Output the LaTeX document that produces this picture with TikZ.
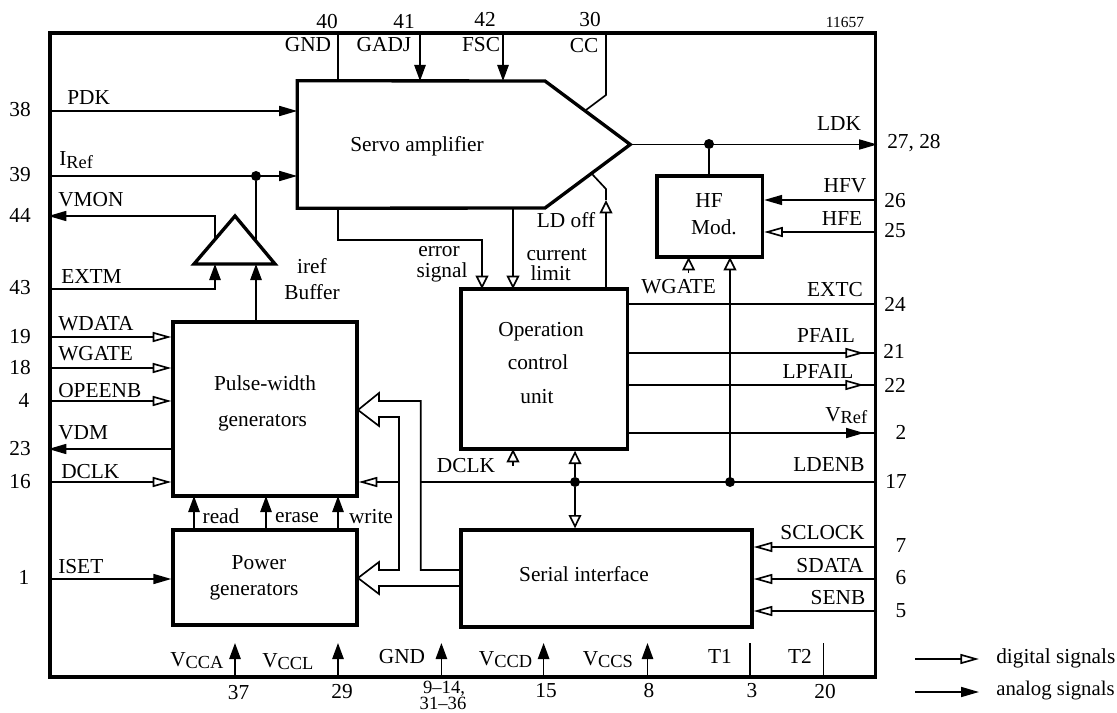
\documentclass[tikz,border=0pt]{standalone}
\usepackage{fontspec}
\setmainfont{Liberation Serif}
\usetikzlibrary{arrows.meta,fit}
\tikzset{
  x=0.75pt,y=-0.75pt,
  lbl/.style={inner sep=0pt,font=\fontsize{16}{18}\selectfont,anchor=base},
  lblw/.style={lbl,anchor=base west},
  tiny lbl/.style={lbl,font=\fontsize{11.6}{14}\selectfont},
  blockbox/.style={draw,line width=2.5pt,inner sep=0pt,line join=miter},
  ghost/.style={inner sep=0pt},
  thick line/.style={line width=2.5pt,line join=miter},
  wire/.style={line width=1.25pt,line join=miter},
  hfill/.style={wire,-{Triangle[length=13.5pt,width=7.5pt]}},
  vfill/.style={wire,-{Triangle[length=12pt,width=8.5pt]}},
  hopen/.style={wire,-{Triangle[open,length=14pt,width=7.5pt,fill=white,line width=1.25pt]}},
  vopen/.style={wire,-{Triangle[open,length=10pt,width=9.5pt,fill=white,line width=1.25pt]}},
  dot/.style={circle,fill=black,inner sep=0pt,minimum size=7.5pt},
}
\newcommand{\subs}[2]{#1\raisebox{-0.28ex}{\fontsize{13.8}{15}\selectfont #2}}
\begin{document}
\begin{tikzpicture}
\useasboundingbox (0,0) rectangle (1117,713);
% outer frame
\node[blockbox,fit={(50,33)(875.5,677)}] (frame) {};
% blocks
\node[ghost,fit={(297.5,81)(630,208)}] (servo) {};
\draw[thick line] (servo.north west) -- (545,81) -- (servo.east) -- (545,208) -- (servo.south west) -- cycle;
\coordinate (triapex) at (235,216);
\coordinate (triL) at (194,264);
\coordinate (triR) at (275,264);
\draw[thick line] (triapex) -- (triL) -- (triR) -- cycle;
\node[blockbox,fit={(173,322)(357,496)}] (pulse) {};
\node[blockbox,fit={(173,530)(357,625)}] (power) {};
\node[blockbox,fit={(461,289)(627.5,449)}] (oper) {};
\node[blockbox,fit={(461,530)(752,627)}] (serial) {};
\node[blockbox,fit={(657,176)(762.5,257)}] (hf) {};

% top pins
\coordinate (cc1) at (606,95);
\coordinate (cc2) at (586,110);
\draw[wire] (338,33) -- (338,81);
\draw[vfill] (420,33) -- (420,81);
\draw[vfill] (503,33) -- (503,81);
\draw[wire] (606,33) -- (cc1) -- (cc2);
% left pins to servo
\draw[hfill] (frame.west |- 0,111) -- (servo.west |- 0,111);
\node[dot] (dotiref) at (256,176) {};
\draw[hfill] (frame.west |- 0,176) -- (servo.west |- 0,176);
\draw[wire] (dotiref) -- (256,241);
\draw[hfill] (215,240) -- (215,216) -- (frame.west |- 0,216);
\draw[vfill] (frame.west |- 0,289) -- (215,289) -- (215,264);
\draw[vfill] (pulse.north -| 256,0) -- (256,264);
% left pins to pulse
\draw[hopen] (frame.west |- 0,337) -- (pulse.west |- 0,337);
\draw[hopen] (frame.west |- 0,368) -- (pulse.west |- 0,368);
\draw[hopen] (frame.west |- 0,401) -- (pulse.west |- 0,401);
\draw[hfill] (pulse.west |- 0,449) -- (frame.west |- 0,449);
\draw[hopen] (frame.west |- 0,482) -- (pulse.west |- 0,482);
\draw[hfill] (frame.west |- 0,579) -- (power.west |- 0,579);
% power to pulse
\draw[vfill] (194,530) -- (194,496);
\draw[vfill] (266,530) -- (266,496);
\draw[vfill] (338,530) -- (338,496);
% servo to oper
\draw[vopen] (338,208) -- (338,240) -- (482,240) -- (482,289);
\draw[vopen] (513,208) -- (513,289);
\draw[vopen] (606,289) -- (606,200);
\draw[wire] (606,200) -- (606,189) -- (592,174);
% LDK
\draw[hfill] (servo.east) -- (frame.east |- servo.east);
\node[dot] (dotldk) at (709,144) {};
\draw[wire] (dotldk) -- (hf.north -| dotldk);
\draw[hfill] (frame.east |- 0,200) -- (hf.east |- 0,200);
\draw[hopen] (frame.east |- 0,232) -- (hf.east |- 0,232);
\draw[vopen] (688.6,273) -- (688.6,257);
\draw[vopen] (730,482) -- (730,257);
% oper outputs
\draw[wire] (oper.east |- 0,304) -- (frame.east |- 0,304);
\draw[wire] (oper.east |- 0,353) -- (frame.east |- 0,353);
\draw[hopen] (oper.east |- 0,353) -- (864,353);
\draw[wire] (oper.east |- 0,385) -- (frame.east |- 0,385);
\draw[hopen] (oper.east |- 0,385) -- (864,385);
\draw[wire] (oper.east |- 0,433) -- (frame.east |- 0,433);
\draw[hfill] (oper.east |- 0,433) -- (864,433);
% LDENB / DCLK bus
\node[dot] (dotldenb) at (730,482) {};
\node[dot] (dotbus) at (575,482) {};
\draw[wire] (frame.east |- 0,482) -- (420.7,482);
\draw[hopen] (399,482) -- (pulse.east |- 0,482);
\draw[vopen] (dotbus) -- (oper.south -| dotbus);
\draw[vopen] (dotbus) -- (serial.north -| dotbus);
\draw[vopen] (513,466) -- (513,449);
% double arrows
\draw[wire] (serial.west |- 0,570) -- (420.7,570) -- (420.7,401) -- (379,401) -- (379,393) -- (358,410) -- (379,426) -- (379,417) -- (399,417) -- (399,570) -- (379,570) -- (379,562) -- (358,578) -- (379,594) -- (379,586) -- (serial.west |- 0,586);
% right pins to serial
\draw[hopen] (frame.east |- 0,547) -- (serial.east |- 0,547);
\draw[hopen] (frame.east |- 0,579) -- (serial.east |- 0,579);
\draw[hopen] (frame.east |- 0,611) -- (serial.east |- 0,611);
% bottom pins
\draw[vfill] (235,677) -- (235,643);
\draw[vfill] (338,677) -- (338,643);
\draw[vfill] (441.4,677) -- (441.4,643);
\draw[vfill] (543.6,677) -- (543.6,643);
\draw[vfill] (647.5,677) -- (647.5,643);
\draw[wire] (750,677) -- (750,643);
\draw[wire] (823.6,677) -- (823.6,643);
% legend
\coordinate (legd1) at (915,659);
\coordinate (legd2) at (979,659);
\coordinate (lega1) at (915,692);
\coordinate (lega2) at (979,692);
\draw[hopen] (legd1) -- (legd2);
\draw[hfill] (lega1) -- (lega2);

% labels: block texts
\node[lbl] (tservo) at (417,152) {Servo amplifier};
\node[lbl] (tiref) at (312,273) {iref};
\node[lbl] (tbuf) at (312,299) {Buffer};
\node[lbl] (terr) at (439,256) {error};
\node[lbl] (tsig) at (442,277) {signal};
\node[lbl] (tcur) at (556.7,260) {current};
\node[lbl] (tlim) at (550.7,280) {limit};
\node[lbl] (tldoff) at (566,228) {LD off};
\node[lbl] (top1) at (541,336) {Operation};
\node[lbl] (top2) at (538,369) {control};
\node[lbl] (top3) at (537,403) {unit};
\node[lbl] (tp1) at (265,390) {Pulse-width};
\node[lbl] (tp2) at (262.5,426) {generators};
\node[lbl] (tg1) at (259,569) {Power};
\node[lbl] (tg2) at (254,595) {generators};
\node[lbl] (tread) at (221,523) {read};
\node[lbl] (terase) at (297,522) {erase};
\node[lbl] (twrite) at (371,523) {write};
\node[lbl] (tser) at (584,581) {Serial interface};
\node[lbl] (thf1) at (709,207) {HF};
\node[lbl] (thf2) at (714,234) {Mod.};
\node[lbl] (tdclkm) at (466,472) {DCLK};
% top
\node[lbl] (n40) at (327,29) {40};
\node[lbl] (n41) at (404,29) {41};
\node[lbl] (n42) at (485,27) {42};
\node[lbl] (n30) at (590,27) {30};
\node[tiny lbl] (n11657) at (845,28) {11657};
\node[lbl] (tgnd) at (308,52) {GND};
\node[lbl] (tgadj) at (384,52) {GADJ};
\node[lbl] (tfsc) at (481,52) {FSC};
\node[lbl] (tcc) at (584,52.7) {CC};
% left
\node[lbl] (n38) at (20,117) {38};
\node[lbl] (n39) at (20,182) {39};
\node[lbl] (n44) at (20,222) {44};
\node[lbl] (n43) at (20,294) {43};
\node[lbl] (n19) at (20,343) {19};
\node[lbl] (n18) at (20,374) {18};
\node[lbl] (n4) at (24,407) {4};
\node[lbl] (n23) at (20,455) {23};
\node[lbl] (n16) at (20,488) {16};
\node[lbl] (n1) at (24,584) {1};
\node[lblw] (tpdk) at (67,105) {PDK};
\node[lblw] (tiref2) at (59,166) {\subs{I}{Ref}};
\node[lblw] (tvmon) at (58,206) {VMON};
\node[lblw] (textm) at (61,283) {EXTM};
\node[lblw] (twdata) at (58,330) {WDATA};
\node[lblw] (twgate) at (58,360) {WGATE};
\node[lblw] (topeenb) at (58,397) {OPEENB};
\node[lblw] (tvdm) at (58,439) {VDM};
\node[lblw] (tdclk) at (61,478) {DCLK};
\node[lblw] (tiset) at (58,573) {ISET};
% right
\node[lbl] (tldk) at (839,131) {LDK};
\node[lblw] (n27) at (887,149) {27, 28};
\node[lbl] (thfv) at (845,192) {HFV};
\node[lbl] (n26) at (895,207) {26};
\node[lbl] (thfe) at (842,225) {HFE};
\node[lbl] (n25) at (895,238) {25};
\node[lbl] (twg2) at (678.6,293) {WGATE};
\node[lbl] (textc) at (835,296) {EXTC};
\node[lbl] (n24) at (895,311) {24};
\node[lbl] (tpfail) at (826,342) {PFAIL};
\node[lbl] (n21) at (894,358) {21};
\node[lbl] (tlpfail) at (818,378) {LPFAIL};
\node[lbl] (n22) at (895,392) {22};
\node[lblw] (tvref) at (825,421) {\subs{V}{Ref}};
\node[lbl] (n2) at (901,439) {2};
\node[lbl] (tldenb) at (829,471) {LDENB};
\node[lbl] (n17) at (896,488) {17};
\node[lbl] (tsclock) at (822.5,539) {SCLOCK};
\node[lbl] (n7) at (901,552) {7};
\node[lbl] (tsdata) at (830,572) {SDATA};
\node[lbl] (n6) at (901,584) {6};
\node[lbl] (tsenb) at (838,604) {SENB};
\node[lbl] (n5) at (901,617) {5};
% bottom
\node[lblw] (tvcca) at (170,666) {\subs{V}{CCA}};
\node[lblw] (tvccl) at (262,667) {\subs{V}{CCL}};
\node[lbl] (tgnd2) at (402,663) {GND};
\node[lblw] (tvccd) at (478.6,665) {\subs{V}{CCD}};
\node[lblw] (tvccs) at (582.5,665) {\subs{V}{CCS}};
\node[lbl] (tt1) at (720,663) {T1};
\node[lbl] (tt2) at (800,663) {T2};
\node[lbl] (n37) at (238.6,699) {37};
\node[lbl] (n29) at (342,698) {29};
\node[lbl,font=\fontsize{14}{16}\selectfont] (n9) at (444,693) {9–14,};
\node[lbl,font=\fontsize{14}{16}\selectfont] (n31) at (443,709) {31–36};
\node[lbl] (n15) at (546,697) {15};
\node[lbl] (n8) at (649,697) {8};
\node[lbl] (n3) at (752,697) {3};
\node[lbl] (n20) at (825,698) {20};
% legend
\node[lblw] (tdig) at (996,663) {digital signals};
\node[lblw,font=\fontsize{15.6}{18}\selectfont] (tana) at (996,695) {analog signals};
\end{tikzpicture}
\end{document}
